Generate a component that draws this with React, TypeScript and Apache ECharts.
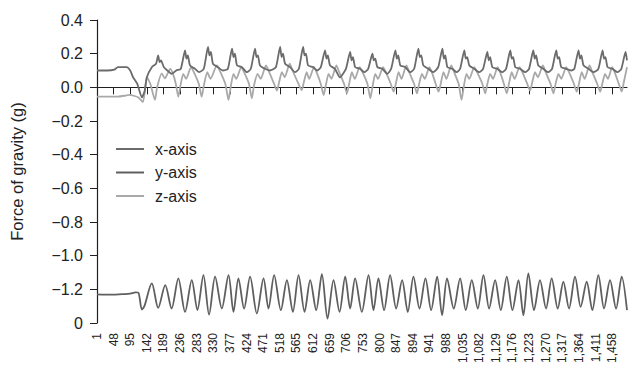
import React, { useEffect, useRef } from "react";
import * as echarts from "echarts";

const seriesNames = ["x-axis", "y-axis", "z-axis"];
const seriesColors = ["#6b6b6b", "#5f5f5f", "#a9a9a9"];

const xTickSamples = [1, 48, 95, 142, 189, 236, 283, 330, 377, 424, 471, 518, 565, 612, 659, 706, 753, 800, 847, 894, 941, 988, 1035, 1082, 1129, 1176, 1223, 1270, 1317, 1364, 1411, 1458];

// x-axis accelerometer trace [sample, g]
const xAxisData: [number, number][] = [
  [1, 0.10], [30, 0.10], [50, 0.105], [60, 0.12], [85, 0.12], [95, 0.10], [103, 0.06], [115, 0.02], [128, -0.06], [136, -0.02], [142, 0.06], [156, 0.12], [168, 0.14],
  [174, 0.19], [178, 0.15], [182, 0.16], [190, 0.12], [200, 0.10], [212, 0.08], [225, 0.10], [238, 0.11],
  [250, 0.22], [254, 0.17], [258, 0.19], [264, 0.13], [278, 0.11], [290, 0.09], [303, 0.11],
  [315, 0.24], [319, 0.19], [323, 0.21], [329, 0.14], [343, 0.12], [357, 0.10], [371, 0.11],
  [383, 0.23], [387, 0.18], [391, 0.20], [397, 0.13], [411, 0.12], [425, 0.09], [436, 0.11],
  [448, 0.23], [452, 0.18], [456, 0.19], [462, 0.13], [476, 0.11], [490, 0.10], [507, 0.12],
  [519, 0.24], [523, 0.18], [527, 0.20], [533, 0.14], [547, 0.12], [561, 0.09], [572, 0.11],
  [584, 0.24], [588, 0.19], [592, 0.20], [598, 0.13], [612, 0.12], [624, 0.10], [634, 0.12],
  [646, 0.22], [650, 0.17], [654, 0.19], [660, 0.13], [674, 0.11], [688, 0.06], [705, 0.11],
  [717, 0.21], [721, 0.16], [725, 0.18], [731, 0.12], [745, 0.11], [757, 0.09], [768, 0.11],
  [780, 0.20], [784, 0.16], [788, 0.17], [794, 0.12], [808, 0.11], [822, 0.08], [833, 0.11],
  [845, 0.22], [849, 0.17], [853, 0.19], [859, 0.13], [873, 0.12], [887, 0.09], [898, 0.11],
  [910, 0.23], [914, 0.18], [918, 0.19], [924, 0.13], [938, 0.11], [952, 0.09], [966, 0.12],
  [978, 0.23], [982, 0.17], [986, 0.19], [992, 0.12], [1006, 0.11], [1018, 0.09], [1028, 0.11],
  [1040, 0.22], [1044, 0.17], [1048, 0.18], [1054, 0.13], [1068, 0.11], [1082, 0.09], [1093, 0.11],
  [1105, 0.21], [1109, 0.16], [1113, 0.18], [1119, 0.12], [1133, 0.11], [1147, 0.09], [1158, 0.11],
  [1170, 0.22], [1174, 0.17], [1178, 0.18], [1184, 0.12], [1198, 0.11], [1212, 0.09], [1223, 0.11],
  [1235, 0.22], [1239, 0.17], [1243, 0.19], [1249, 0.13], [1263, 0.11], [1277, 0.09], [1288, 0.11],
  [1300, 0.22], [1304, 0.17], [1308, 0.18], [1314, 0.12], [1328, 0.11], [1342, 0.10], [1351, 0.11],
  [1363, 0.22], [1367, 0.17], [1371, 0.19], [1377, 0.13], [1391, 0.11], [1405, 0.09], [1419, 0.11],
  [1431, 0.22], [1435, 0.17], [1439, 0.18], [1445, 0.12], [1459, 0.11], [1473, 0.09], [1484, 0.11],
  [1496, 0.21], [1500, 0.16],
];

// y-axis accelerometer trace [sample, g]
const yAxisData: [number, number][] = [
  [1, -1.23], [40, -1.232], [80, -1.228], [95, -1.225], [110, -1.218], [118, -1.22], [128, -1.32], [135, -1.30],
  [156, -1.165], [174, -1.31], [194, -1.175], [212, -1.314], [231, -1.135], [250, -1.334],
  [269, -1.145], [285, -1.324], [302, -1.115], [318, -1.35], [335, -1.125], [354, -1.314],
  [373, -1.115], [387, -1.334], [401, -1.135], [417, -1.314], [434, -1.125], [453, -1.344],
  [472, -1.135], [486, -1.314], [502, -1.115], [521, -1.324], [538, -1.145], [555, -1.334],
  [571, -1.115], [588, -1.334], [604, -1.145], [621, -1.324], [637, -1.11], [653, -1.374],
  [670, -1.145], [687, -1.334], [703, -1.125], [717, -1.314], [731, -1.135], [750, -1.334],
  [769, -1.115], [783, -1.324], [797, -1.135], [813, -1.324], [830, -1.115], [847, -1.314],
  [864, -1.145], [880, -1.334], [896, -1.125], [913, -1.314], [930, -1.135], [946, -1.324],
  [963, -1.125], [977, -1.354], [991, -1.135], [1010, -1.314], [1028, -1.135], [1044, -1.324],
  [1061, -1.145], [1078, -1.314], [1094, -1.115], [1110, -1.314], [1127, -1.145], [1143, -1.324],
  [1160, -1.125], [1176, -1.324], [1193, -1.145], [1207, -1.354], [1221, -1.105], [1237, -1.324],
  [1254, -1.145], [1271, -1.314], [1287, -1.135], [1304, -1.314], [1320, -1.155], [1336, -1.314],
  [1353, -1.125], [1369, -1.304], [1386, -1.155], [1402, -1.324], [1419, -1.115], [1435, -1.314],
  [1452, -1.145], [1469, -1.314], [1485, -1.125], [1500, -1.324],
];

// z-axis accelerometer trace [sample, g]
const zAxisData: [number, number][] = [
  [1, -0.055], [60, -0.055], [80, -0.05], [92, -0.045], [105, -0.05], [118, -0.06], [131, -0.087], [142, 0.06], [152, 0.02],
  [165, -0.075], [171, 0.0], [184, 0.083], [193, 0.053], [208, 0.11], [216, 0.08], [224, 0.02],
  [231, -0.056], [237, 0.01], [245, 0.08], [253, 0.05], [267, 0.12], [275, 0.09], [289, 0.02],
  [297, -0.056], [303, 0.01], [313, 0.09], [322, 0.05], [340, 0.13], [350, 0.09], [364, 0.02],
  [373, -0.075], [379, 0.0], [387, 0.08], [395, 0.05], [409, 0.12], [417, 0.09], [431, 0.02],
  [439, -0.065], [445, 0.01], [455, 0.08], [464, 0.05], [479, 0.13], [488, 0.09], [502, 0.02],
  [510, -0.02], [516, 0.03], [524, 0.09], [532, 0.06], [546, 0.14], [554, 0.10], [571, 0.02],
  [580, -0.016], [586, 0.03], [594, 0.09], [601, 0.05], [615, 0.12], [622, 0.09], [634, 0.02],
  [642, -0.046], [648, 0.01], [656, 0.08], [664, 0.05], [678, 0.13], [686, 0.09], [700, 0.02],
  [708, -0.036], [714, 0.02], [722, 0.09], [730, 0.05], [744, 0.12], [752, 0.09], [766, 0.02],
  [774, -0.065], [780, 0.0], [788, 0.08], [796, 0.05], [810, 0.12], [818, 0.09], [832, 0.02],
  [840, -0.026], [846, 0.02], [854, 0.09], [862, 0.05], [876, 0.13], [884, 0.09], [898, 0.02],
  [906, -0.036], [912, 0.02], [920, 0.08], [928, 0.05], [941, 0.12], [948, 0.09], [959, 0.02],
  [967, -0.026], [973, 0.02], [981, 0.09], [989, 0.05], [1003, 0.13], [1011, 0.09], [1024, 0.02],
  [1032, -0.075], [1038, 0.0], [1046, 0.08], [1054, 0.05], [1068, 0.12], [1076, 0.09], [1091, 0.02],
  [1099, -0.036], [1105, 0.02], [1113, 0.08], [1121, 0.05], [1134, 0.12], [1141, 0.09], [1152, 0.02],
  [1160, -0.036], [1166, 0.02], [1174, 0.09], [1182, 0.05], [1196, 0.12], [1204, 0.09], [1218, 0.02],
  [1226, -0.02], [1232, 0.03], [1240, 0.09], [1248, 0.06], [1262, 0.13], [1270, 0.09], [1284, 0.02],
  [1292, -0.036], [1298, 0.02], [1306, 0.08], [1314, 0.05], [1328, 0.12], [1336, 0.09], [1350, 0.02],
  [1358, -0.026], [1364, 0.02], [1372, 0.09], [1380, 0.05], [1394, 0.13], [1402, 0.09], [1416, 0.02],
  [1424, -0.026], [1430, 0.02], [1438, 0.08], [1446, 0.05], [1458, 0.12], [1465, 0.09], [1477, 0.02],
  [1485, -0.026], [1491, 0.03], [1500, 0.12],
];

const FONT = "'Liberation Sans', Arial, Helvetica, sans-serif";

function fmtY(v: number): string {
  if (Math.abs(v + 1.4) < 1e-6) return "0";
  const s = Math.abs(v).toFixed(1);
  return v < -1e-9 ? "\u2212" + s : s;
}

export default function App() {
  const ref = useRef<HTMLDivElement>(null);
  useEffect(() => {
    if (!ref.current) return;
    const chart = echarts.init(ref.current, undefined, { renderer: "svg" });
    const dataSets = [xAxisData, yAxisData, zAxisData];
    const smooths = [0.2, 0.3, 0.2];
    chart.setOption({
      animation: false,
      backgroundColor: "#ffffff",
      grid: { left: 97, top: 20, right: 1, bottom: 52, containLabel: false },
      legend: {
        orient: "vertical",
        left: 116,
        top: 141,
        padding: 0,
        icon: "rect",
        itemWidth: 28,
        itemHeight: 2,
        itemGap: 7.5,
        data: seriesNames,
        textStyle: { fontFamily: FONT, fontSize: 16, color: "#222", lineHeight: 16, padding: [0, 0, 0, 6] },
      },
      xAxis: {
        type: "value",
        min: 1,
        max: 1500,
        axisLine: { show: true, lineStyle: { color: "#231f20", width: 1.2 } },
        axisTick: { show: true, length: 7, customValues: xTickSamples, lineStyle: { color: "#231f20", width: 1 } },
        axisLabel: {
          customValues: xTickSamples,
          rotate: 90,
          margin: 10,
          fontFamily: FONT,
          fontSize: 12,
          color: "#222",
          formatter: (v: number) => v.toLocaleString("en-US"),
        },
        splitLine: { show: false },
      },
      yAxis: {
        type: "value",
        min: -1.4,
        max: 0.4,
        interval: 0.2,
        name: "Force of gravity (g)",
        nameLocation: "middle",
        nameRotate: 90,
        nameGap: 72,
        nameTextStyle: { fontFamily: FONT, fontSize: 16.5, color: "#222" },
        axisLine: { show: true, lineStyle: { color: "#231f20", width: 1.2 } },
        axisTick: { show: true, length: 7, lineStyle: { color: "#231f20", width: 1 } },
        axisLabel: { margin: 14, fontFamily: FONT, fontSize: 16, color: "#222", formatter: fmtY },
        splitLine: { show: false },
      },
      series: dataSets.map((d, i) => ({
        name: seriesNames[i],
        type: "line",
        data: d,
        symbol: "none",
        smooth: smooths[i],
        z: i === 2 ? 2 : 3,
        lineStyle: { color: seriesColors[i], width: 1.8 },
        itemStyle: { color: seriesColors[i] },
      })),
    });
    return () => chart.dispose();
  }, []);
  return (
    <div
      ref={ref}
      style={{ position: "fixed", left: 0, top: 0, width: 628, height: 375, background: "#fff" }}
    />
  );
}
